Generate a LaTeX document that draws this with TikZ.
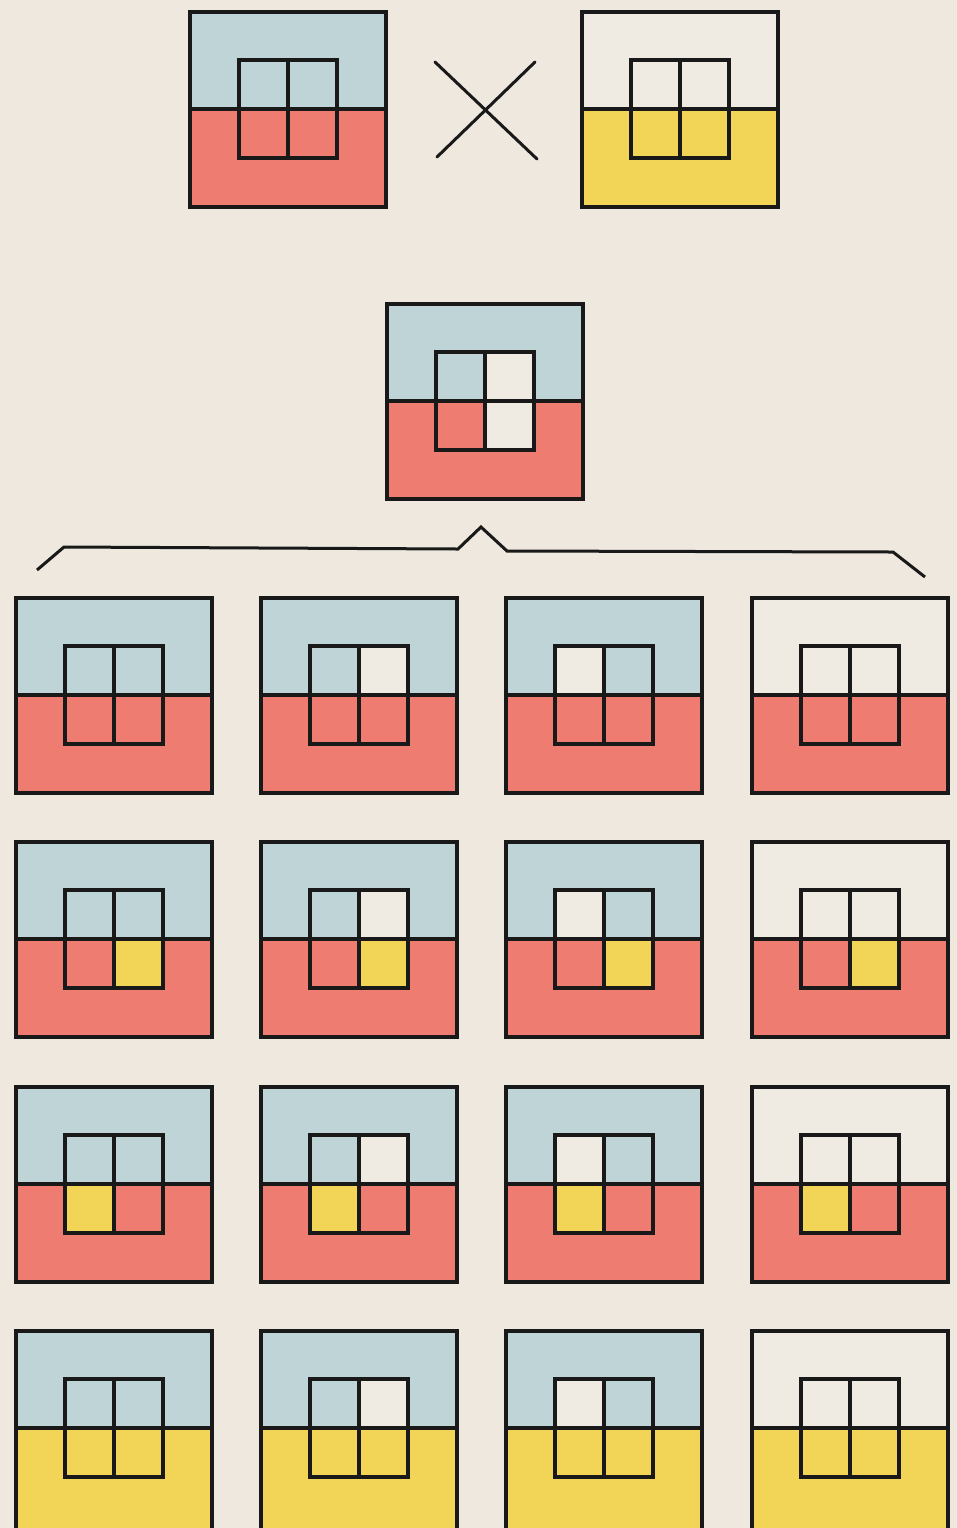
\documentclass[tikz,border=0pt]{standalone}
\usetikzlibrary{calc}
\definecolor{paper}{RGB}{238,232,222}
\definecolor{bl}{RGB}{190,212,215}
\definecolor{rd}{RGB}{238,124,112}
\definecolor{ye}{RGB}{242,212,86}
\definecolor{wh}{RGB}{240,235,226}
\tikzset{ln/.style={draw=black!90, line width=1.75pt, line join=miter},
  thin ln/.style={draw=black!90, line width=1.5pt, line cap=round}}
\def\ph{195}
\newcommand\plant[8]{%
 \begin{scope}[shift={(#1,#2)}]
 \fill[#3] (0,0) rectangle (196,97);
 \fill[#4] (0,97) rectangle (196,\ph);
 \fill[#5] (49,48) rectangle (98,97);
 \fill[#6] (98,48) rectangle (147,97);
 \fill[#7] (49,97) rectangle (98,146);
 \fill[#8] (98,97) rectangle (147,146);
 \draw[ln] (0,0) rectangle (196,\ph);
 \draw[ln] (0,97) -- (196,97);
 \draw[ln] (49,48) rectangle (147,146) (98,48) -- (98,146);
 \end{scope}}
\begin{document}
\begin{tikzpicture}[x=0.5pt,y=-0.5pt]
\fill[paper] (0,0) rectangle (957,1528);
\useasboundingbox (0,0) rectangle (957,1528);
\clip (0,0) rectangle (957,1528);
% parents
\plant{190}{12}{bl}{rd}{bl}{bl}{rd}{rd}
\plant{582}{12}{wh}{ye}{wh}{wh}{ye}{ye}
% cross
\coordinate (x1) at (435,62); \coordinate (x2) at (537,159);
\coordinate (x3) at (535,62); \coordinate (x4) at (437,157);
\draw[thin ln] (x1) -- (x2);
\draw[thin ln] (x3) -- (x4);
% F1
\plant{387}{304}{bl}{rd}{bl}{wh}{rd}{wh}
% brace
\coordinate (b1) at (37,570); \coordinate (b2) at (64,547);
\coordinate (b3) at (458,549); \coordinate (b4) at (481,527);
\coordinate (b5) at (507,551); \coordinate (b6) at (893,552);
\coordinate (b7) at (925,577);
\draw[ln, line width=1.5pt] (b1) -- (b2) -- (b3) -- (b4) -- (b5) -- (b6) -- (b7);
% F2 rows
\plant{16}{598}{bl}{rd}{bl}{bl}{rd}{rd}
\plant{261}{598}{bl}{rd}{bl}{wh}{rd}{rd}
\plant{506}{598}{bl}{rd}{wh}{bl}{rd}{rd}
\plant{752}{598}{wh}{rd}{wh}{wh}{rd}{rd}
\plant{16}{842}{bl}{rd}{bl}{bl}{rd}{ye}
\plant{261}{842}{bl}{rd}{bl}{wh}{rd}{ye}
\plant{506}{842}{bl}{rd}{wh}{bl}{rd}{ye}
\plant{752}{842}{wh}{rd}{wh}{wh}{rd}{ye}
\plant{16}{1087}{bl}{rd}{bl}{bl}{ye}{rd}
\plant{261}{1087}{bl}{rd}{bl}{wh}{ye}{rd}
\plant{506}{1087}{bl}{rd}{wh}{bl}{ye}{rd}
\plant{752}{1087}{wh}{rd}{wh}{wh}{ye}{rd}
\def\ph{205}
\plant{16}{1331}{bl}{ye}{bl}{bl}{ye}{ye}
\plant{261}{1331}{bl}{ye}{bl}{wh}{ye}{ye}
\plant{506}{1331}{bl}{ye}{wh}{bl}{ye}{ye}
\plant{752}{1331}{wh}{ye}{wh}{wh}{ye}{ye}
\end{tikzpicture}
\end{document}
